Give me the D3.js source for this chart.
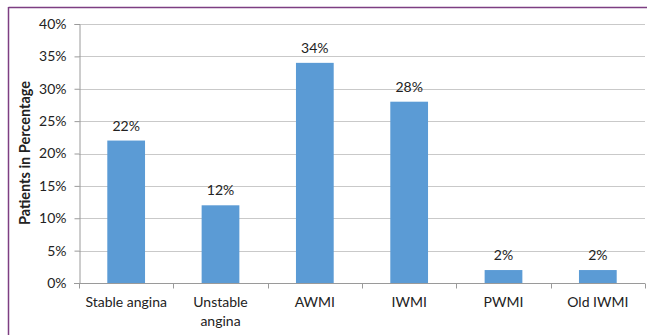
<!DOCTYPE html>
<html>
<head>
<meta charset="utf-8">
<script src="https://cdn.jsdelivr.net/npm/d3@7"></script>
<style>
  html, body { margin: 0; padding: 0; background: #fff; }
  svg { display: block; }
  text { font-family: Lato, "Open Sans", sans-serif; fill: #222; }
</style>
</head>
<body>
<svg id="chart" width="647" height="335"></svg>
<script>
const categories = [["Stable angina"], ["Unstable", "angina"], ["AWMI"], ["IWMI"], ["PWMI"], ["Old IWMI"]];
const values = [22, 12, 34, 28, 2, 2];
const yTicks = [0, 5, 10, 15, 20, 25, 30, 35, 40];
const yTitle = "Patients in Percentage";

const svg = d3.select("#chart");
const W = 647, H = 335;

// purple frame
svg.append("line").attr("x1", 8.5).attr("x2", W).attr("y1", 7.5).attr("y2", 7.5)
  .attr("stroke", "#7d3f82").attr("stroke-width", 1.5);
svg.append("line").attr("x1", 8.5).attr("x2", 8.5).attr("y1", 7).attr("y2", H)
  .attr("stroke", "#7d3f82").attr("stroke-width", 1.5);

const keys = categories.map(c => c.join(" "));
const x = d3.scaleBand().domain(keys).range([79, 645]).paddingInner(0.6).paddingOuter(0.3);
const y = d3.scaleLinear().domain([0, 40]).range([283, 24]);

// gridlines
svg.append("g").selectAll("line").data(yTicks.filter(t => t > 0)).join("line")
  .attr("x1", 79).attr("x2", 645)
  .attr("y1", d => Math.round(y(d)) + 0.5).attr("y2", d => Math.round(y(d)) + 0.5)
  .attr("stroke", "#c9c9c9").attr("stroke-width", 1.2);

// y axis
const yAxis = d3.axisLeft(y).tickValues(yTicks).tickFormat(d => d + "%").tickSize(5).tickPadding(8);
const gy = svg.append("g").attr("transform", "translate(79.5,0)").call(yAxis);
gy.select(".domain").attr("stroke", "#9a9a9a");
gy.selectAll(".tick line").attr("stroke", "#9a9a9a");
gy.selectAll(".tick text").attr("font-size", 14).attr("fill", "#222").attr("font-family", "Lato, sans-serif");

// x axis
const band = (645 - 79) / categories.length;
const gx = svg.append("g").attr("transform", "translate(0,283.5)");
gx.append("line").attr("x1", 74).attr("x2", 645).attr("stroke", "#9a9a9a");
gx.selectAll("line.tk").data(d3.range(categories.length + 1)).join("line").attr("class", "tk")
  .attr("x1", i => Math.round(79 + i * band) + 0.5).attr("x2", i => Math.round(79 + i * band) + 0.5)
  .attr("y1", 0).attr("y2", 5).attr("stroke", "#9a9a9a");

const lbl = gx.selectAll("text.cat").data(categories).join("text").attr("class", "cat")
  .attr("x", (d, i) => x(keys[i]) + x.bandwidth() / 2)
  .attr("y", 23).attr("text-anchor", "middle").attr("font-size", 14);
lbl.selectAll("tspan").data(d => d).join("tspan")
  .attr("x", function() { return this.parentNode.getAttribute("x"); })
  .attr("dy", (d, i) => i === 0 ? 0 : 19).text(d => d);

// bars
svg.append("g").selectAll("rect").data(values).join("rect")
  .attr("x", (d, i) => x(keys[i])).attr("width", x.bandwidth())
  .attr("y", d => y(d)).attr("height", d => y(0) - y(d))
  .attr("fill", "#5b9bd5");

// value labels
svg.append("g").selectAll("text").data(values).join("text")
  .attr("x", (d, i) => x(keys[i]) + x.bandwidth() / 2)
  .attr("y", d => y(d) - 10).attr("text-anchor", "middle").attr("font-size", 14)
  .text(d => d + "%");

// y title
svg.append("text").attr("transform", "translate(30,153) rotate(-90)")
  .attr("text-anchor", "middle").attr("font-size", 14.5).attr("font-weight", "bold")
  .text(yTitle);
</script>
</body>
</html>
